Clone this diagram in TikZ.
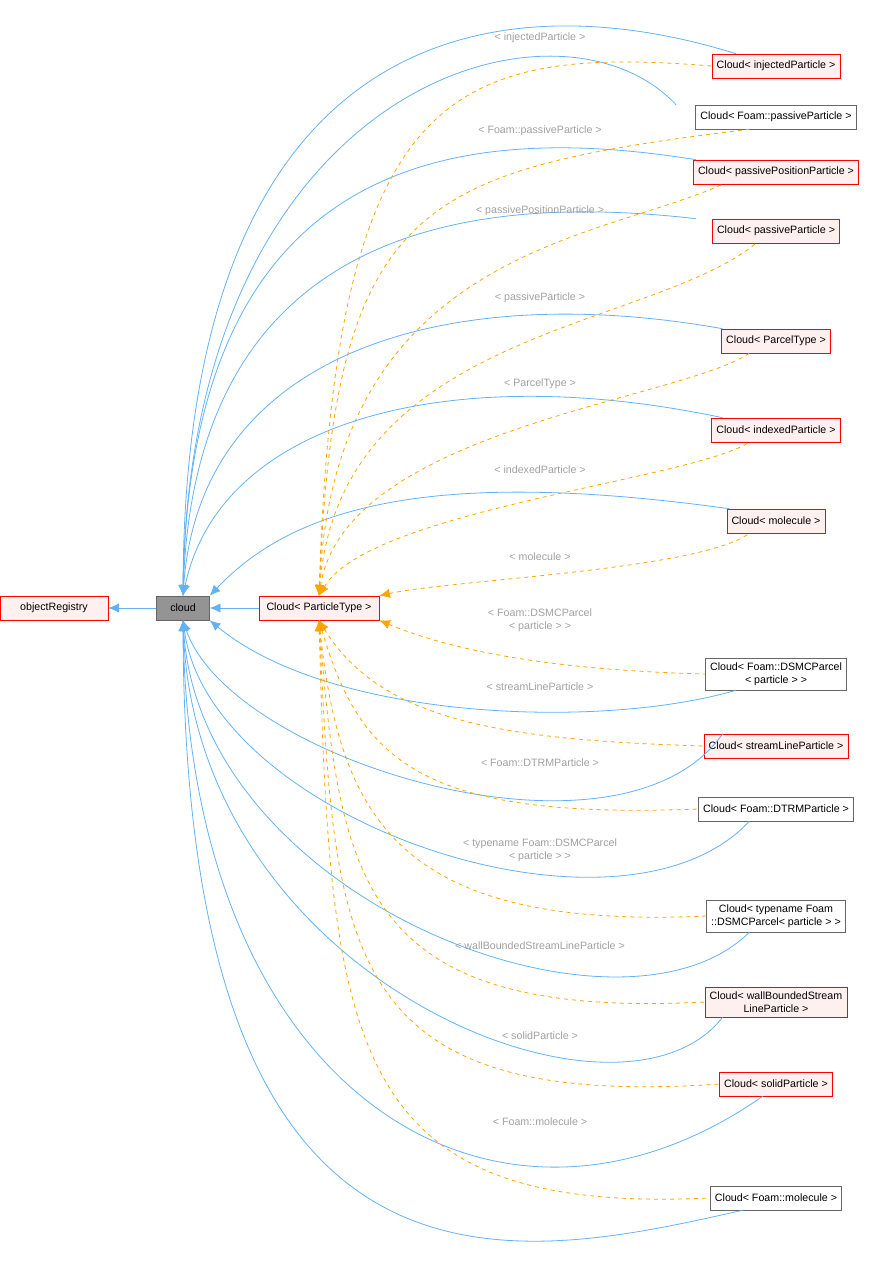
\documentclass[tikz,border=0pt]{standalone}
\usepackage{fontspec}
\setmainfont{Liberation Sans}
\usetikzlibrary{arrows.meta}
\definecolor{edgeblue}{RGB}{99,178,245}
\definecolor{edgeorange}{RGB}{255,165,0}
\definecolor{redfill}{RGB}{255,240,240}
\definecolor{labelgray}{RGB}{160,160,160}
\tikzset{
  box/.style={draw=black!60, fill=white, font=\fontsize{8}{9.5}\selectfont, inner sep=3.5pt, minimum height=18pt, align=center},
  redbox/.style={box, draw=red, fill=redfill},
  inherit/.style={edgeblue, line width=0.6pt, {Latex[length=8pt,width=7pt]}-},
  templ/.style={edgeorange, line width=0.6pt, dashed, {Latex[length=8pt,width=7pt]}-},
  lbl/.style={labelgray, font=\fontsize{8}{9.5}\selectfont, align=center}
}
\begin{document}
\begin{tikzpicture}[x=0.75pt,y=-0.75pt]
\useasboundingbox (0,0) rectangle (889,1280);
% main nodes
\node[redbox, minimum width=108*0.75pt] (objreg) at (54,608) {objectRegistry};
\node[box, fill=black!42, draw=black!60, minimum width=53*0.75pt] (cloud) at (183,608) {cloud};
\node[redbox, minimum width=120*0.75pt] (pt) at (319,608) {Cloud< ParticleType >};
% right column
\node[redbox] (n1) at (776,66) {Cloud< injectedParticle >};
\node[box] (n2) at (776,117) {Cloud< Foam::passiveParticle >};
\node[redbox] (n3) at (776,172) {Cloud< passivePositionParticle >};
\node[redbox] (n4) at (776,231) {Cloud< passiveParticle >};
\node[redbox] (n5) at (776,341) {Cloud< ParcelType >};
\node[redbox] (n6) at (776,430) {Cloud< indexedParticle >};
\node[redbox] (n7) at (776,521) {Cloud< molecule >};
\node[box] (n8) at (776,674) {Cloud< Foam::DSMCParcel\\< particle > >};
\node[redbox] (n9) at (776,746) {Cloud< streamLineParticle >};
\node[box] (n10) at (776,809) {Cloud< Foam::DTRMParticle >};
\node[box] (n11) at (776,916) {Cloud< typename Foam\\::DSMCParcel< particle > >};
\node[redbox] (n12) at (776,1002) {Cloud< wallBoundedStream\\LineParticle >};
\node[redbox] (n13) at (776,1084) {Cloud< solidParticle >};
\node[box] (n14) at (776,1198) {Cloud< Foam::molecule >};
% inheritance
\draw[inherit] (objreg) -- (cloud);
\draw[inherit] (cloud) -- (pt);
\draw[inherit] (cloud.north) .. controls (185,20) and (500,-20) .. ([xshift=-30pt]n1.north);
\draw[inherit] (cloud.north) .. controls (190,80) and (560,-20) .. ([xshift=-75pt]n2.north);
\draw[inherit] (cloud.north) .. controls (190,160) and (450,120) .. ([xshift=-60pt]n3.north);
\draw[inherit] (cloud.north) .. controls (195,240) and (450,190) .. ([xshift=-60pt]n4.north);
\draw[inherit] (cloud.north) .. controls (200,350) and (450,280) .. ([xshift=-40pt]n5.north);
\draw[inherit] (cloud.north) .. controls (220,420) and (450,360) .. ([xshift=-40pt]n6.north);
\draw[inherit] (cloud.north east) .. controls (300,500) and (450,470) .. ([xshift=-35pt]n7.north);
\draw[inherit] (cloud.south east) .. controls (330,720) and (600,730) .. ([xshift=-30pt]n8.south);
\draw[inherit] (cloud.south) .. controls (230,760) and (620,880) .. ([xshift=-40pt]n9.north);
\draw[inherit] (cloud.south) .. controls (210,820) and (620,960) .. ([xshift=-20pt]n10.south);
\draw[inherit] (cloud.south) .. controls (200,900) and (620,1060) .. ([xshift=-20pt]n11.south);
\draw[inherit] (cloud.south) .. controls (195,980) and (620,1150) .. ([xshift=-40pt]n12.south);
\draw[inherit] (cloud.south) .. controls (190,1100) and (500,1280) .. ([xshift=-10pt]n13.south);
\draw[inherit] (cloud.south) .. controls (185,1340) and (520,1260) .. ([xshift=-25pt]n14.south);
% template instances
\draw[templ] (pt.north) .. controls (335,90) and (450,45) .. (n1.west);
\draw[templ] (pt.north) .. controls (335,200) and (420,170) .. ([xshift=-20pt]n2.south);
\draw[templ] (pt.north) .. controls (335,250) and (600,240) .. ([xshift=-40pt]n3.south);
\draw[templ] (pt.north) .. controls (340,330) and (650,330) .. ([xshift=-15pt]n4.south);
\draw[templ] (pt.north) .. controls (345,430) and (680,400) .. ([xshift=-20pt]n5.south);
\draw[templ] (pt.north) .. controls (370,510) and (690,480) .. ([xshift=-20pt]n6.south);
\draw[templ] (pt.north east) .. controls (450,580) and (700,570) .. ([xshift=-20pt]n7.south);
\draw[templ] (pt.south east) .. controls (450,650) and (550,670) .. (n8.west);
\draw[templ] (pt.south) .. controls (380,720) and (500,740) .. (n9.west);
\draw[templ] (pt.south) .. controls (360,760) and (420,820) .. (n10.west);
\draw[templ] (pt.south) .. controls (340,820) and (400,930) .. (n11.west);
\draw[templ] (pt.south) .. controls (340,880) and (360,1020) .. (n12.west);
\draw[templ] (pt.south) .. controls (335,950) and (340,1110) .. (n13.west);
\draw[templ] (pt.south) .. controls (330,1050) and (350,1215) .. (n14.west);
% labels
\node[lbl] (l1) at (540,38) {< injectedParticle >};
\node[lbl] (l2) at (540,131) {< Foam::passiveParticle >};
\node[lbl] (l3) at (540,211) {< passivePositionParticle >};
\node[lbl] (l4) at (540,298) {< passiveParticle >};
\node[lbl] (l5) at (540,384) {< ParcelType >};
\node[lbl] (l6) at (540,470) {< indexedParticle >};
\node[lbl] (l7) at (540,557) {< molecule >};
\node[lbl] (l8) at (540,620) {< Foam::DSMCParcel\\< particle > >};
\node[lbl] (l9) at (540,687) {< streamLineParticle >};
\node[lbl] (l10) at (540,763) {< Foam::DTRMParticle >};
\node[lbl] (l11) at (540,850) {< typename Foam::DSMCParcel\\< particle > >};
\node[lbl] (l12) at (540,946) {< wallBoundedStreamLineParticle >};
\node[lbl] (l13) at (540,1036) {< solidParticle >};
\node[lbl] (l14) at (540,1122) {< Foam::molecule >};
\end{tikzpicture}
\end{document}
